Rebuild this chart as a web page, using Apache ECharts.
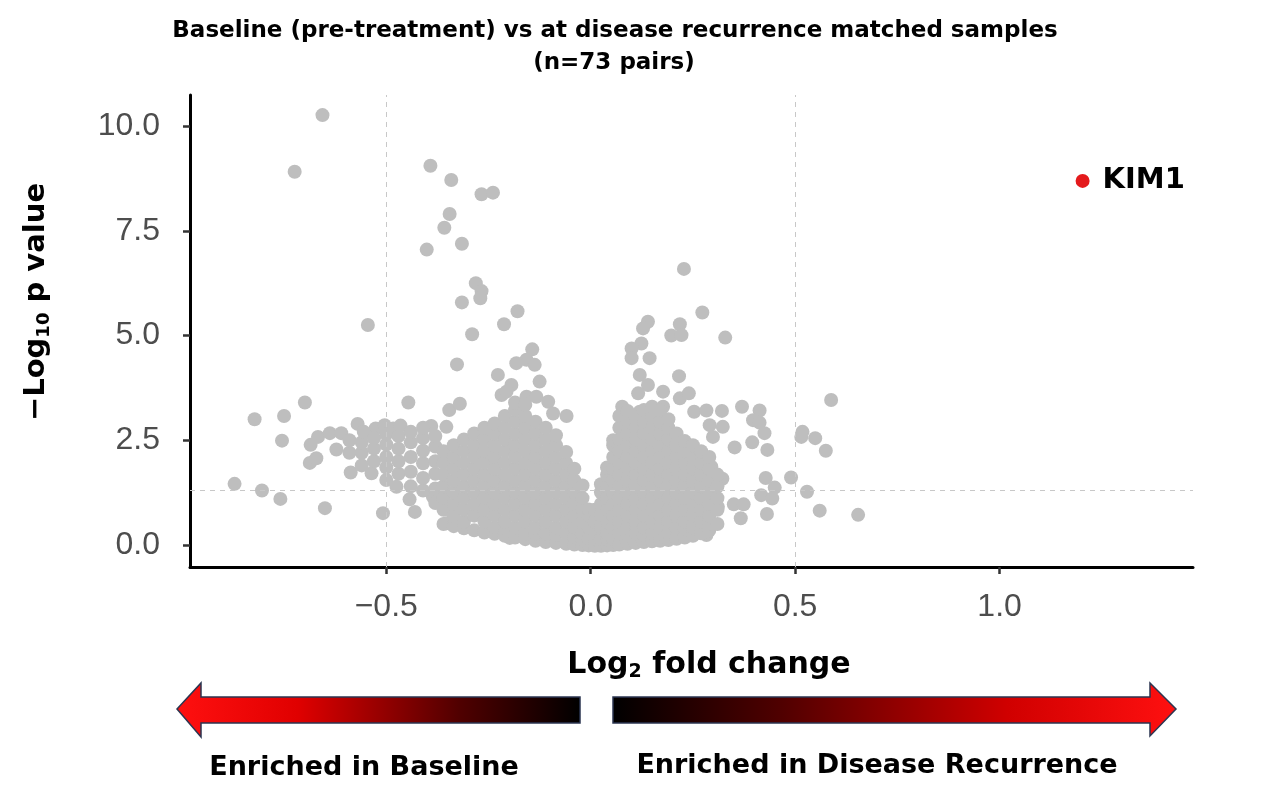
<!DOCTYPE html>
<html>
<head>
<meta charset="utf-8">
<script src="https://cdn.jsdelivr.net/npm/echarts@6/dist/echarts.min.js"></script>
<style>
html,body{margin:0;padding:0;background:#fff;}
#chart{width:1261px;height:799px;}
</style>
</head>
<body>
<div id="chart"></div>
<script>
// ---- tick labels ----
const xTicks = [-0.5, 0, 0.5, 1.0];
const yTicks = [0, 2.5, 5, 7.5, 10];
const pThreshold = 1.301; // -log10(0.05)
const fcThresholds = [-0.5, 0.5];

// ---- highlighted protein ----
const kim1 = [[1.203, 8.69]];

// ---- grey points: isolated outliers, left side ----
const outliersLeft = [
 [-0.656,10.26],[-0.724,8.91],[-0.392,9.05],[-0.341,8.71],[-0.267,8.37],[-0.239,8.41],
 [-0.345,7.90],[-0.358,7.57],[-0.315,7.19],[-0.401,7.05],[-0.281,6.25],[-0.267,6.06],
 [-0.270,5.89],[-0.315,5.79],[-0.179,5.58],[-0.212,5.27],[-0.545,5.25],[-0.290,5.03],
 [-0.327,4.31],[-0.227,4.06],[-0.143,4.67],[-0.157,4.42],[-0.182,4.34],[-0.137,4.30],
 [-0.125,3.90],[-0.194,3.82],[-0.218,3.58],[-0.699,3.40],[-0.446,3.40],[-0.822,3.00],
 [-0.750,3.08],[-0.755,2.49],[-0.871,1.46],[-0.804,1.30],[-0.759,1.10],[-0.650,0.88],
 [-0.508,0.76],[-0.443,1.09],[-0.430,0.79],[-0.346,3.22],[-0.320,3.37],[-0.059,3.08],
 [-0.104,3.42],[-0.157,3.54],[-0.133,3.54],[-0.092,3.14],[-0.182,3.30],[-0.206,3.66]
];

// ---- grey points: isolated outliers, right side ----
const outliersRight = [
 [0.228,6.59],[0.273,5.55],[0.329,4.95],[0.140,5.33],[0.128,5.17],[0.218,5.27],
 [0.197,5.00],[0.222,5.01],[0.124,4.81],[0.100,4.69],[0.100,4.46],[0.144,4.46],
 [0.120,4.06],[0.140,3.82],[0.116,3.62],[0.177,3.66],[0.216,4.03],[0.218,3.50],
 [0.240,3.62],[0.077,3.30],[0.120,3.18],[0.177,3.30],[0.253,3.18],[0.283,3.21],
 [0.321,3.20],[0.370,3.30],[0.413,3.21],[0.397,2.98],[0.413,2.92],[0.425,2.67],
 [0.291,2.86],[0.323,2.82],[0.299,2.58],[0.352,2.33],[0.395,2.45],[0.432,2.27],
 [0.518,2.70],[0.515,2.58],[0.549,2.55],[0.575,2.25],[0.588,3.46],[0.322,1.58],
 [0.428,1.60],[0.450,1.37],[0.490,1.61],[0.417,1.19],[0.444,1.11],[0.529,1.27],
 [0.350,0.97],[0.374,0.97],[0.367,0.64],[0.431,0.74],[0.560,0.82],[0.654,0.72],
 [0.295,1.87],[0.307,1.55],[0.299,1.23],[0.311,0.91],[0.283,0.24],[0.250,0.52]
];

// ---- grey points: left band (-0.7 .. -0.35) ----
const bandLeft = [
 [-0.685,2.39],[-0.667,2.58],[-0.638,2.67],[-0.610,2.67],[-0.570,2.89],[-0.622,2.28],
 [-0.687,1.96],[-0.671,2.07],[-0.587,1.73],[-0.536,1.71],[-0.475,1.39],[-0.526,2.78],
 [-0.504,2.86],[-0.483,2.78],[-0.390,2.84],[-0.353,2.82],[-0.386,1.15],[-0.353,0.52],
 [-0.345,0.84],[-0.231,0.32],[-0.198,0.17],
 [-0.59,2.2],[-0.59,2.5],
 [-0.56,1.9],[-0.56,2.2],[-0.56,2.45],[-0.555,2.7],
 [-0.53,2.0],[-0.53,2.3],[-0.53,2.55],
 [-0.50,1.55],[-0.50,1.85],[-0.50,2.1],[-0.50,2.4],[-0.50,2.65],
 [-0.47,1.7],[-0.47,2.0],[-0.47,2.3],[-0.47,2.6],[-0.465,2.85],
 [-0.44,1.4],[-0.44,1.75],[-0.44,2.1],[-0.44,2.45],[-0.44,2.7],
 [-0.41,1.3],[-0.41,1.6],[-0.41,1.95],[-0.41,2.25],[-0.41,2.55],[-0.41,2.8],
 [-0.38,1.0],[-0.38,1.35],[-0.38,1.7],[-0.38,2.0],[-0.38,2.35],[-0.38,2.6]
];

// ---- grey points: dense core left of zero ----
const coreLeft = [
 [-0.36,0.50],[-0.36,0.84],[-0.36,1.12],[-0.36,1.40],[-0.36,1.68],[-0.36,1.96],[-0.36,2.24],
 [-0.335,0.45],[-0.335,0.70],[-0.335,0.98],[-0.335,1.26],[-0.335,1.54],[-0.335,1.82],[-0.335,2.10],[-0.335,2.38],
 [-0.31,0.40],[-0.31,0.56],[-0.31,0.84],[-0.31,1.12],[-0.31,1.40],[-0.31,1.68],[-0.31,1.96],[-0.31,2.24],[-0.31,2.52],
 [-0.285,0.35],[-0.285,0.70],[-0.285,0.98],[-0.285,1.26],[-0.285,1.54],[-0.285,1.82],[-0.285,2.10],[-0.285,2.38],[-0.285,2.66],
 [-0.26,0.30],[-0.26,0.56],[-0.26,0.84],[-0.26,1.12],[-0.26,1.40],[-0.26,1.68],[-0.26,1.96],[-0.26,2.24],[-0.26,2.52],[-0.26,2.80],
 [-0.235,0.27],[-0.235,0.42],[-0.235,0.70],[-0.235,0.98],[-0.235,1.26],[-0.235,1.54],[-0.235,1.82],[-0.235,2.10],[-0.235,2.38],[-0.235,2.66],[-0.235,2.90],
 [-0.21,0.22],[-0.21,0.40],[-0.21,0.56],[-0.21,0.84],[-0.21,1.12],[-0.21,1.40],[-0.21,1.68],[-0.21,1.96],[-0.21,2.24],[-0.21,2.52],[-0.21,2.80],[-0.21,3.08],
 [-0.185,0.18],[-0.185,0.42],[-0.185,0.70],[-0.185,0.98],[-0.185,1.26],[-0.185,1.54],[-0.185,1.82],[-0.185,2.10],[-0.185,2.38],[-0.185,2.66],[-0.185,2.94],[-0.185,3.22],[-0.185,3.40],
 [-0.16,0.14],[-0.16,0.28],[-0.16,0.56],[-0.16,0.84],[-0.16,1.12],[-0.16,1.40],[-0.16,1.68],[-0.16,1.96],[-0.16,2.24],[-0.16,2.52],[-0.16,2.80],[-0.16,3.08],[-0.16,3.35],
 [-0.135,0.10],[-0.135,0.26],[-0.135,0.42],[-0.135,0.70],[-0.135,0.98],[-0.135,1.26],[-0.135,1.54],[-0.135,1.82],[-0.135,2.10],[-0.135,2.38],[-0.135,2.66],[-0.135,2.94],
 [-0.11,0.07],[-0.11,0.28],[-0.11,0.56],[-0.11,0.84],[-0.11,1.12],[-0.11,1.40],[-0.11,1.68],[-0.11,1.96],[-0.11,2.24],[-0.11,2.52],[-0.11,2.80],
 [-0.085,0.05],[-0.085,0.24],[-0.085,0.42],[-0.085,0.70],[-0.085,0.98],[-0.085,1.26],[-0.085,1.54],[-0.085,1.82],[-0.085,2.10],[-0.085,2.38],[-0.085,2.62],
 [-0.06,0.03],[-0.06,0.28],[-0.06,0.56],[-0.06,0.84],[-0.06,1.12],[-0.06,1.40],[-0.06,1.68],[-0.06,1.96],[-0.06,2.22],
 [-0.04,0.01],[-0.04,0.20],[-0.04,0.42],[-0.04,0.70],[-0.04,0.98],[-0.04,1.26],[-0.04,1.54],[-0.04,1.82],
 [-0.02,0.00],[-0.02,0.14],[-0.02,0.28],[-0.02,0.56],[-0.02,0.84],[-0.02,1.12],[-0.02,1.42],
 [-0.005,-0.01],[-0.005,0.14],[-0.005,0.42],[-0.005,0.70],[-0.005,0.85]
];

// ---- grey points: dense core right of zero ----
const coreRight = [
 [0.01,-0.02],[0.01,0.14],[0.01,0.28],[0.01,0.56],[0.01,0.84],
 [0.025,-0.02],[0.025,0.14],[0.025,0.42],[0.025,0.70],[0.025,0.98],[0.025,1.26],[0.025,1.45],
 [0.04,-0.01],[0.04,0.14],[0.04,0.28],[0.04,0.56],[0.04,0.84],[0.04,1.12],[0.04,1.40],[0.04,1.68],[0.04,1.85],
 [0.055,0.00],[0.055,0.14],[0.055,0.42],[0.055,0.70],[0.055,0.98],[0.055,1.26],[0.055,1.54],[0.055,1.82],[0.055,2.10],[0.055,2.38],[0.055,2.50],
 [0.07,0.01],[0.07,0.28],[0.07,0.56],[0.07,0.84],[0.07,1.12],[0.07,1.40],[0.07,1.68],[0.07,1.96],[0.07,2.24],[0.07,2.52],[0.07,2.80],[0.07,3.08],
 [0.09,0.03],[0.09,0.22],[0.09,0.42],[0.09,0.70],[0.09,0.98],[0.09,1.26],[0.09,1.54],[0.09,1.82],[0.09,2.10],[0.09,2.38],[0.09,2.66],[0.09,2.94],[0.09,3.20],
 [0.11,0.05],[0.11,0.28],[0.11,0.56],[0.11,0.84],[0.11,1.12],[0.11,1.40],[0.11,1.68],[0.11,1.96],[0.11,2.24],[0.11,2.52],[0.11,2.80],[0.11,3.08],
 [0.13,0.07],[0.13,0.24],[0.13,0.42],[0.13,0.70],[0.13,0.98],[0.13,1.26],[0.13,1.54],[0.13,1.82],[0.13,2.10],[0.13,2.38],[0.13,2.66],[0.13,2.94],[0.13,3.22],
 [0.15,0.09],[0.15,0.28],[0.15,0.56],[0.15,0.84],[0.15,1.12],[0.15,1.40],[0.15,1.68],[0.15,1.96],[0.15,2.24],[0.15,2.52],[0.15,2.80],[0.15,3.08],[0.15,3.30],
 [0.17,0.10],[0.17,0.26],[0.17,0.42],[0.17,0.70],[0.17,0.98],[0.17,1.26],[0.17,1.54],[0.17,1.82],[0.17,2.10],[0.17,2.38],[0.17,2.66],[0.17,2.94],[0.17,3.22],
 [0.19,0.12],[0.19,0.28],[0.19,0.56],[0.19,0.84],[0.19,1.12],[0.19,1.40],[0.19,1.68],[0.19,1.96],[0.19,2.24],[0.19,2.52],[0.19,2.80],[0.19,3.00],
 [0.21,0.15],[0.21,0.42],[0.21,0.70],[0.21,0.98],[0.21,1.26],[0.21,1.54],[0.21,1.82],[0.21,2.10],[0.21,2.38],[0.21,2.66],
 [0.23,0.18],[0.23,0.40],[0.23,0.56],[0.23,0.84],[0.23,1.12],[0.23,1.40],[0.23,1.68],[0.23,1.96],[0.23,2.24],[0.23,2.48],
 [0.25,0.22],[0.25,0.42],[0.25,0.70],[0.25,0.98],[0.25,1.26],[0.25,1.54],[0.25,1.82],[0.25,2.10],[0.25,2.38],
 [0.27,0.28],[0.27,0.56],[0.27,0.84],[0.27,1.12],[0.27,1.40],[0.27,1.68],[0.27,1.96],[0.27,2.24],
 [0.29,0.35],[0.29,0.52],[0.29,0.70],[0.29,0.98],[0.29,1.26],[0.29,1.54],[0.29,1.82],[0.29,2.10],
 [0.31,0.50],[0.31,0.84],[0.31,1.12],[0.31,1.40],[0.31,1.68]
];

const GREY = '#bebebe';
const BOLD = 'DejaVu Sans';
const fmt1 = v => (v < 0 ? '\u2212' : '') + Math.abs(v).toFixed(1);

const chart = echarts.init(document.getElementById('chart'), null, {renderer: 'canvas'});

const greyAll = [].concat(outliersLeft, outliersRight, bandLeft, coreLeft, coreRight);

chart.setOption({
  animation: false,
  backgroundColor: '#ffffff',
  grid: {left: 190, top: 95, width: 1003, height: 472, containLabel: false},
  xAxis: {
    type: 'value', min: -0.98, max: 1.473,
    axisLine: {show: true, onZero: false, lineStyle: {color: '#000', width: 3}},
    axisTick: {show: true, customValues: xTicks, length: 7, lineStyle: {color: '#333', width: 2.5}},
    axisLabel: {show: true, customValues: xTicks, formatter: fmt1, fontSize: 32,
      fontFamily: 'Liberation Sans', color: '#4d4d4d', margin: 24},
    splitLine: {show: false}
  },
  yAxis: {
    type: 'value', min: -0.525, max: 10.74,
    axisLine: {show: true, onZero: false, lineStyle: {color: '#000', width: 3}},
    axisTick: {show: true, customValues: yTicks, length: 7, lineStyle: {color: '#333', width: 2.5}},
    axisLabel: {show: true, customValues: yTicks, formatter: fmt1, fontSize: 32,
      fontFamily: 'Liberation Sans', color: '#4d4d4d', margin: 30},
    splitLine: {show: false}
  },
  series: [
    {
      type: 'line', data: [], z: 1, silent: true,
      markLine: {
        silent: true, symbol: 'none', animation: false,
        label: {show: false},
        lineStyle: {color: '#c8c8c8', type: [5, 5], width: 1},
        data: [{xAxis: fcThresholds[0]}, {xAxis: fcThresholds[1]}, {yAxis: pThreshold}]
      }
    },
    {
      type: 'scatter', z: 2, data: greyAll, symbolSize: 14,
      itemStyle: {color: GREY, opacity: 1}, silent: true
    },
    {
      type: 'scatter', z: 3, data: kim1, symbolSize: 14,
      itemStyle: {color: '#e41a1c', opacity: 1}, silent: true,
      label: {show: true, position: 'right', distance: 13, formatter: 'KIM1',
        fontFamily: BOLD, fontWeight: 'bold', fontSize: 29, color: '#000'}
    }
  ],
  graphic: [
    {type: 'text', x: 615, y: 31, style: {text: 'Baseline (pre-treatment) vs at disease recurrence matched samples',
      fill: '#000', fontFamily: BOLD, fontWeight: 'bold', fontSize: 23, align: 'center', verticalAlign: 'middle'}},
    {type: 'text', x: 614, y: 63, style: {text: '(n=73 pairs)',
      fill: '#000', fontFamily: BOLD, fontWeight: 'bold', fontSize: 23, align: 'center', verticalAlign: 'middle'}},
    {type: 'text', x: 36, y: 302, rotation: Math.PI / 2, style: {
      text: '{a|\u2212Log}{s|10}{a| p value}', align: 'center', verticalAlign: 'middle',
      rich: {
        a: {fontFamily: BOLD, fontWeight: 'bold', fontSize: 29, fill: '#000', lineHeight: 34},
        s: {fontFamily: BOLD, fontWeight: 'bold', fontSize: 18, fill: '#000', lineHeight: 16, verticalAlign: 'bottom'}
      }}},
    {type: 'text', x: 709, y: 665, style: {
      text: '{a|Log}{s|2}{a| fold change}', align: 'center', verticalAlign: 'middle',
      rich: {
        a: {fontFamily: BOLD, fontWeight: 'bold', fontSize: 30, fill: '#000', lineHeight: 34},
        s: {fontFamily: BOLD, fontWeight: 'bold', fontSize: 19, fill: '#000', lineHeight: 16, verticalAlign: 'bottom'}
      }}},
    {type: 'polygon', shape: {points: [[177,709],[201,683],[201,697],[580,697],[580,723],[201,723],[201,737]]},
      style: {fill: new echarts.graphic.LinearGradient(0, 0, 1, 0, [
        {offset: 0, color: '#ff1010'}, {offset: 0.3, color: '#e00000'}, {offset: 0.7, color: '#500000'}, {offset: 1, color: '#000000'}]),
        stroke: '#2b3550', lineWidth: 1.5}},
    {type: 'polygon', shape: {points: [[613,697],[1150,697],[1150,683],[1176,709],[1150,736],[1150,723],[613,723]]},
      style: {fill: new echarts.graphic.LinearGradient(0, 0, 1, 0, [
        {offset: 0, color: '#000000'}, {offset: 0.3, color: '#500000'}, {offset: 0.7, color: '#d00000'}, {offset: 1, color: '#ff1010'}]),
        stroke: '#2b3550', lineWidth: 1.5}},
    {type: 'text', x: 364, y: 768, style: {text: 'Enriched in Baseline', fill: '#000',
      fontFamily: BOLD, fontWeight: 'bold', fontSize: 27, align: 'center', verticalAlign: 'middle'}},
    {type: 'text', x: 877, y: 766, style: {text: 'Enriched in Disease Recurrence', fill: '#000',
      fontFamily: BOLD, fontWeight: 'bold', fontSize: 27, align: 'center', verticalAlign: 'middle'}}
  ]
});
</script>
</body>
</html>
